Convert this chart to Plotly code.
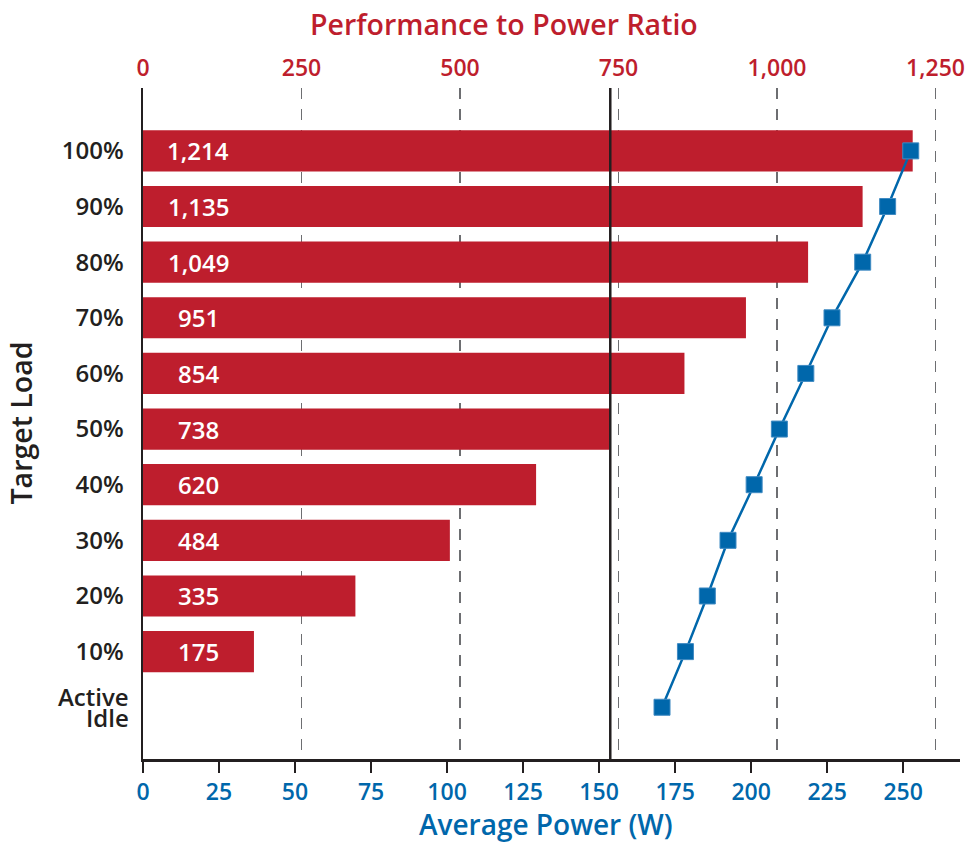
import plotly.graph_objects as go

# ---- data ----
loads = ["100%", "90%", "80%", "70%", "60%", "50%", "40%", "30%", "20%", "10%"]
all_loads = ["Active Idle", "10%", "20%", "30%", "40%", "50%", "60%", "70%", "80%", "90%", "100%"]
perf_to_power = [1214, 1135, 1049, 951, 854, 738, 620, 484, 335, 175]
avg_power = [170.7, 178.4, 185.6, 192.4, 201.0, 209.3, 218.0, 226.6, 236.7, 244.9, 252.5]  # same order as all_loads
overall_ratio = 737
power_ticks = [0, 25, 50, 75, 100, 125, 150, 175, 200, 225, 250]
ratio_ticks = [0, 250, 500, 750, 1000, 1250]

RED = "#BE1E2D"
BLUE = "#0067AB"
BLACK = "#231F20"
FONT = "Open Sans"

fig = go.Figure()

# bars on the (top) ratio axis
fig.add_trace(go.Bar(
    x=perf_to_power, y=loads, orientation="h", xaxis="x", yaxis="y",
    marker=dict(color=RED, line=dict(width=0)),
    hoverinfo="skip",
))

# power line on the (bottom) overlaying axis, drawn above the bars
fig.add_trace(go.Scatter(
    x=avg_power, y=all_loads, xaxis="x2", yaxis="y",
    mode="lines+markers",
    line=dict(color=BLUE, width=2.5),
    marker=dict(symbol="square", size=16, color=BLUE, line=dict(color="#3F8AC2", width=1)),
    hoverinfo="skip",
))

annotations = []
for lab, v in zip(loads, perf_to_power):
    annotations.append(dict(
        text=f"{v:,}", xref="paper", x=0, xshift=55, xanchor="center",
        yref="y", y=lab, yanchor="middle", showarrow=False,
        font=dict(family=FONT, size=24, color="white", weight=600),
    ))

# two-line "Active Idle" category label
annotations.append(dict(text="Active", xref="paper", x=0, xshift=-12, xanchor="right",
                        yref="y", y="Active Idle", yshift=11, yanchor="middle", showarrow=False,
                        font=dict(family=FONT, size=24, color=BLACK, weight=600)))
annotations.append(dict(text="Idle", xref="paper", x=0, xshift=-12, xanchor="right",
                        yref="y", y="Active Idle", yshift=-10, yanchor="middle", showarrow=False,
                        font=dict(family=FONT, size=24, color=BLACK, weight=600)))

# axis titles
annotations.append(dict(text="Performance to Power Ratio", xref="paper", x=0.4416, xanchor="center",
                        yref="paper", y=1, yshift=85, yanchor="top", showarrow=False,
                        font=dict(family=FONT, size=28.5, color=RED, weight=600)))
annotations.append(dict(text="Average Power (W)", xref="paper", x=0.4927, xanchor="center",
                        yref="paper", y=0, yshift=-44, yanchor="top", showarrow=False,
                        font=dict(family=FONT, size=28, color=BLUE, weight=600)))
annotations.append(dict(text="Target Load", xref="paper", x=0, xshift=-123, xanchor="center",
                        yref="paper", y=0.5, yanchor="middle", textangle=-90, showarrow=False,
                        font=dict(family=FONT, size=28.5, color=BLACK, weight=600)))

fig.update_layout(
    width=973, height=843,
    margin=dict(l=143, r=8, t=88, b=84),
    paper_bgcolor="white", plot_bgcolor="white",
    showlegend=False, bargap=0.26,
    font=dict(family=FONT),
    xaxis=dict(
        side="top", range=[0, 1288.6], tickvals=ratio_ticks,
        tickformat=",d", ticks="", showline=False, zeroline=False,
        showgrid=True, gridcolor="#6D6E71", gridwidth=1.8, griddash="11px,10px",
        tickfont=dict(family=FONT, size=23, color=RED, weight=600),
        ticklabelstandoff=6,
    ),
    xaxis2=dict(
        overlaying="x", side="bottom", anchor="y",
        range=[0, 268.7], tickvals=power_ticks,
        ticks="outside", ticklen=11, tickwidth=2.5, tickcolor=BLACK,
        showline=True, linecolor=BLACK, linewidth=2.5,
        showgrid=False, zeroline=False,
        tickfont=dict(family=FONT, size=23, color=BLUE, weight=600),
    ),
    yaxis=dict(
        type="category", categoryorder="array", categoryarray=all_loads,
        range=[-0.93, 11.13], tickvals=loads,
        showline=True, linecolor=BLACK, linewidth=2.5, ticks="",
        showgrid=False, zeroline=False, ticklabelstandoff=12,
        tickfont=dict(family=FONT, size=24, color=BLACK, weight=600),
    ),
    shapes=[dict(type="line", xref="x", x0=overall_ratio, x1=overall_ratio,
                 yref="paper", y0=0, y1=1, layer="above",
                 line=dict(color=BLACK, width=2.5))],
    annotations=annotations,
)

fig.write_html("out.html",
               config={"displayModeBar": False, "staticPlot": True},
               post_script="document.body.style.margin='0';document.body.style.overflow='hidden';")
